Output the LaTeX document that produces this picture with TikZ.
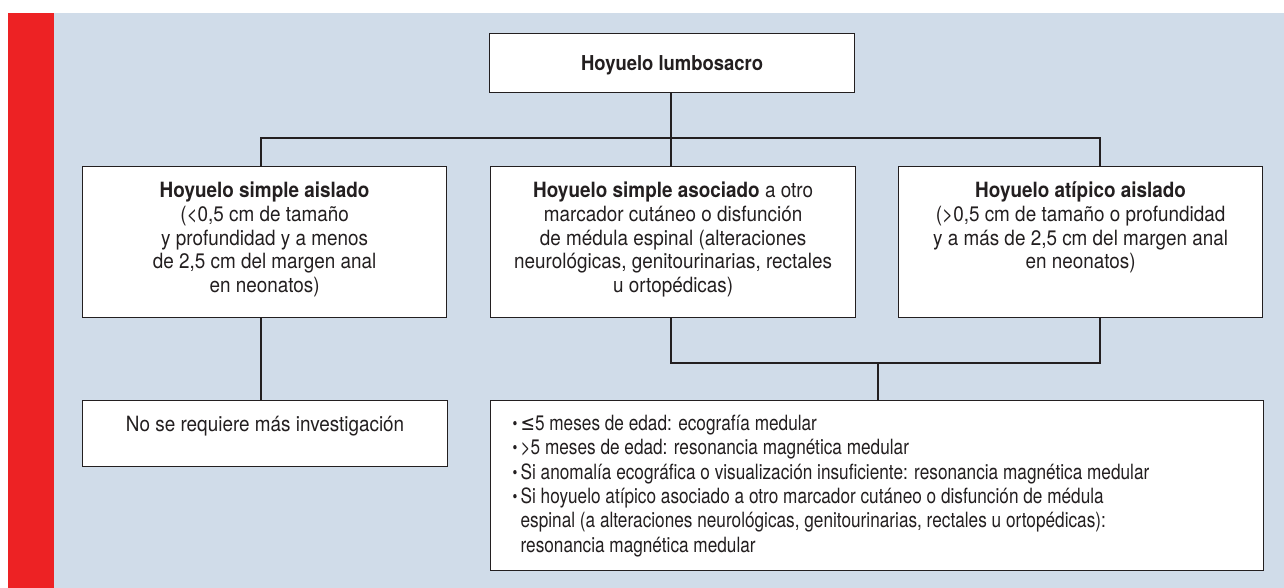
\documentclass[tikz,border=0pt]{standalone}
\usepackage{fontspec}
\setmainfont{TeX Gyre Heros}[FakeStretch=0.9]
\newfontfamily\narrowfont{TeX Gyre Heros}[FakeStretch=0.82]
\newfontfamily\symfont{DejaVu Sans}[FakeStretch=0.82]
\definecolor{bgblue}{HTML}{D0DCE9}
\definecolor{barred}{HTML}{ED2224}
\definecolor{ink}{HTML}{231F20}
\newcommand\cbox[3]{\parbox[c][#2][t]{#1}{\fontsize{21}{23.75}\selectfont\centering\rule{0pt}{31pt}#3}}
\newcommand\itm{\leavevmode\llap{\makebox[8pt][l]{\raisebox{1pt}{\fontsize{17}{17}\selectfont •}}}}
\tikzset{
  box/.style={draw=ink, fill=white, line width=1.2pt, inner sep=0pt, anchor=north west, text=ink},
  conn/.style={draw=ink, line width=2pt}
}
\begin{document}
\begin{tikzpicture}[x=1pt,y=-1pt]
\useasboundingbox (0,0) rectangle (1284,588);
\fill[white] (0,0) rectangle (1284,588);
\fill[barred] (8,13) rectangle (54,588);
\fill[bgblue] (54,13) rectangle (1284,588);

\node[box, minimum width=365pt, minimum height=59pt, font=\fontsize{20.5}{23.75}\selectfont\bfseries, text height=15pt, text depth=0pt] (top) at (489,33) {Hoyuelo lumbosacro};

\node[box] (lb) at (82,166) {\cbox{364pt}{151pt}{\textbf{Hoyuelo simple aislado}\\(<0,5 cm de tamaño\\y profundidad y a menos\\de 2,5 cm del margen anal\\en neonatos)}};
\node[box] (mb) at (490,166) {\cbox{365pt}{151pt}{\textbf{Hoyuelo simple asociado} a otro\\marcador cutáneo o disfunción\\de médula espinal (alteraciones\\neurológicas, genitourinarias, rectales\\u ortopédicas)}};
\node[box] (rb) at (898,166) {\cbox{364pt}{151pt}{\textbf{Hoyuelo atípico aislado}\\(>0,5 cm de tamaño o profundidad\\y a más de 2,5 cm del margen anal\\en neonatos)}};

\node[box] (nb) at (82,400) {\cbox{365pt}{66pt}{No se requiere más investigación}};
\node[box] (bb) at (490,400) {\parbox[c][170pt][t]{773pt}{\narrowfont\fontsize{21}{24.3}\selectfont\raggedright\leftskip=30pt
\itm\rule{0pt}{30pt}{\symfont ≤}5 meses de edad: ecografía medular\\
\itm >5 meses de edad: resonancia magnética medular\\
\itm Si anomalía ecográfica o visualización insuficiente: resonancia magnética medular\\
\itm Si hoyuelo atípico asociado a otro marcador cutáneo o disfunción de médula\\
espinal (a alteraciones neurológicas, genitourinarias, rectales u ortopédicas):\\
resonancia magnética medular}};

\coordinate (xl) at (261,0);
\coordinate (xm) at (671,0);
\coordinate (xr) at (1100,0);
\coordinate (xb) at (878,0);
\coordinate (h1) at (0,138);
\coordinate (h2) at (0,363);

\draw[conn] (top.south -| xm) -- (h1 -| xm);
\draw[conn] (lb.north -| xl) -- (h1 -| xl) -- (h1 -| xr) -- (rb.north -| xr);
\draw[conn] (h1 -| xm) -- (mb.north -| xm);
\draw[conn] (lb.south -| xl) -- (nb.north -| xl);
\draw[conn] (mb.south -| xm) -- (h2 -| xm) -- (h2 -| xr) -- (rb.south -| xr);
\draw[conn] (h2 -| xb) -- (bb.north -| xb);
\end{tikzpicture}
\end{document}
